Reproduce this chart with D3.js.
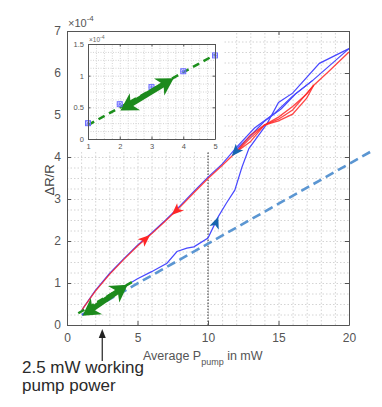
<!DOCTYPE html>
<html>
<head>
<meta charset="utf-8">
<script src="https://cdn.jsdelivr.net/npm/d3@7"></script>
<style>
  body { margin: 0; background: #fff; }
  svg { display: block; font-family: "Liberation Sans", Arial, sans-serif; }
</style>
</head>
<body>
<div id="chart"></div>
<script>
// Tick values
const xTicks = [0, 5, 10, 15, 20];
const yTicks = [0, 1, 2, 3, 4, 5, 6, 7];
const insetXTicks = [1, 2, 3, 4, 5];
const insetYTicks = [0, 0.5, 1, 1.5];

// Red curve (forward/back, mostly overlapping)
const redX = [1.06, 2, 3, 4, 5, 6, 7, 8, 9, 10, 11, 12, 13, 14, 15, 16, 17, 17.5, 18.5, 20];
const redY = [0.36, 0.8, 1.2, 1.55, 1.88, 2.17, 2.48, 2.8, 3.15, 3.49, 3.8, 4.12, 4.45, 4.76, 4.95, 5.2, 5.5, 5.71, 6.02, 6.5];
// Red loop branches between 12 and 17.5 mW
const redLoop1X = [12, 13, 14, 15, 16, 17.5];
const redLoop1Y = [4.12, 4.52, 4.76, 4.9, 5.12, 5.71];
const redLoop2X = [12, 13, 14, 15, 16, 17, 17.5];
const redLoop2Y = [4.12, 4.36, 4.76, 4.86, 5.02, 5.4, 5.71];

// Blue curve: rising branch
const blueUpX = [1.06, 2, 3, 4.26, 5, 6, 7.09, 7.8, 8.5, 9, 10, 10.73, 11.3, 11.9, 12.4, 12.9, 14.2, 15, 16, 17.9, 20];
const blueUpY = [0.24, 0.45, 0.66, 0.95, 1.1, 1.27, 1.47, 1.75, 1.83, 1.86, 2.07, 2.58, 2.9, 3.21, 3.75, 4.2, 4.8, 5.3, 5.52, 6.23, 6.58];
// Blue curve: falling branch
const blueDownX = [20, 17.45, 16, 14.75, 13.3, 12.05, 11, 10, 9, 8, 7, 6, 5, 4, 3, 2, 1.06];
const blueDownY = [6.58, 5.83, 5.45, 5.05, 4.69, 4.24, 3.83, 3.52, 3.18, 2.83, 2.5, 2.19, 1.9, 1.57, 1.22, 0.82, 0.36];
const blueDown2X = [11.9, 13, 14, 15.2, 16.2, 17.45];
const blueDown2Y = [4.15, 4.5, 4.85, 5.15, 5.5, 5.83];

// Linear fits
const blueFitX = [1.06, 21.5];
const blueFitY = [0.24, 4.12];
const greenFitX = [0.8, 4.6];
const greenFitY = [0.28, 1.02];

// Arrowheads: [tipX, tipY, fromX, fromY]
const redArrows = [[5.89, 2.14, 5.0, 1.88], [7.42, 2.62, 8.2, 2.86]];
const blueArrows = [[11.68, 4.02, 12.4, 4.3], [10.73, 2.58, 10.25, 2.15]];
const greenArrow = [1.1, 0.22, 4.3, 0.96];
const markerX = 10;
const markerTop = 4.12;
const workingPower = 2.5;

// Inset data (x10^-4)
const insetX = [1, 2, 3, 4, 5];
const insetY = [0.25, 0.55, 0.82, 1.07, 1.32];
const insetFitX = [1, 5];
const insetFitY = [0.22, 1.33];
const insetArrow = [2.02, 0.45, 3.7, 0.96];

const width = 382, height = 407;
const svg = d3.select('#chart').append('svg')
    .attr('width', width)
    .attr('height', height);

// Main scales
const x = d3.scaleLinear().domain([0, 20]).range([67, 349]);
const y = d3.scaleLinear().domain([0, 7]).range([325, 31]);

const axisColor = '#555';
const gridColor = '#d4d4d4';
const fmt = d3.format('~g');

// Minor grid
const grid = svg.append('g');
grid.append('g')
    .attr('transform', `translate(0,${y(0)})`)
    .call(d3.axisBottom(x).tickValues(d3.range(1, 20, 1)).tickSize(y(7) - y(0)).tickFormat(''))
    .call(g => g.select('.domain').remove());
grid.append('g')
    .attr('transform', `translate(${x(0)},0)`)
    .call(d3.axisLeft(y).tickValues(d3.range(0.25, 7, 0.25)).tickSize(x(0) - x(20)).tickFormat(''))
    .call(g => g.select('.domain').remove());
grid.selectAll('line')
    .attr('stroke', gridColor)
    .attr('stroke-dasharray', '1.5,2');

const line = d3.line().x(d => x(d[0])).y(d => y(d[1]));
const zip = (a, b) => a.map((v, i) => [v, b[i]]);

// dotted marker at 10 mW
svg.append('line')
    .attr('x1', x(markerX)).attr('x2', x(markerX))
    .attr('y1', y(0)).attr('y2', y(markerTop))
    .attr('stroke', '#333')
    .attr('stroke-dasharray', '1.5,1.5');

// Blue dashed fit
svg.append('path')
    .attr('d', line(zip(blueFitX, blueFitY)))
    .attr('fill', 'none')
    .attr('stroke', '#5b96d2')
    .attr('stroke-width', 2.6)
    .attr('stroke-dasharray', '9,5');

// Blue curves
[[blueUpX, blueUpY], [blueDownX, blueDownY], [blueDown2X, blueDown2Y]].forEach(([a, b]) => {
    svg.append('path')
        .attr('d', line(zip(a, b)))
        .attr('fill', 'none')
        .attr('stroke', '#4848ff')
        .attr('stroke-width', 1.2);
});

// Red curves
[[redX, redY], [redLoop1X, redLoop1Y], [redLoop2X, redLoop2Y]].forEach(([a, b]) => {
    svg.append('path')
        .attr('d', line(zip(a, b)))
        .attr('fill', 'none')
        .attr('stroke', '#ff2626')
        .attr('stroke-opacity', 0.85)
        .attr('stroke-width', 1.3);
});

// Arrowhead helper (pixel coords)
function arrowHead(g, tx, ty, fx, fy, len, half, notch, color) {
    const a = Math.atan2(ty - fy, tx - fx);
    const c = Math.cos(a), s = Math.sin(a);
    const pts = [
        [tx, ty],
        [tx - len * c - half * s, ty - len * s + half * c],
        [tx - (len - notch) * c, ty - (len - notch) * s],
        [tx - len * c + half * s, ty - len * s - half * c]
    ];
    g.append('polygon')
        .attr('points', pts.map(p => p.join(',')).join(' '))
        .attr('fill', color);
}

redArrows.forEach(d => arrowHead(svg, x(d[0]), y(d[1]), x(d[2]), y(d[3]), 12, 5, 3, '#ff2626'));
blueArrows.forEach(d => arrowHead(svg, x(d[0]), y(d[1]), x(d[2]), y(d[3]), 12, 5, 3, '#1766b0'));

// Green double arrow
function doubleArrow(g, x1, y1, x2, y2, color) {
    const len = Math.hypot(x2 - x1, y2 - y1);
    const ux = (x2 - x1) / len, uy = (y2 - y1) / len;
    g.append('line')
        .attr('x1', x1 + ux * 10).attr('y1', y1 + uy * 10)
        .attr('x2', x2 - ux * 10).attr('y2', y2 - uy * 10)
        .attr('stroke', color)
        .attr('stroke-width', 5.5);
    arrowHead(g, x2, y2, x1, y1, 17, 10, 5, color);
    arrowHead(g, x1, y1, x2, y2, 17, 10, 5, color);
}

svg.append('path')
    .attr('d', line(zip(greenFitX, greenFitY)))
    .attr('fill', 'none')
    .attr('stroke', '#1c8f1c')
    .attr('stroke-width', 2.5)
    .attr('stroke-dasharray', '7,4');
doubleArrow(svg, x(greenArrow[0]), y(greenArrow[1]), x(greenArrow[2]), y(greenArrow[3]), '#1c8a1c');

// Main axes with inward ticks
const tickStyle = g => {
    g.selectAll('line').attr('stroke', axisColor);
    g.select('.domain').attr('stroke', axisColor);
    g.selectAll('text').attr('fill', '#555').attr('font-size', 12);
};
svg.append('g')
    .attr('transform', `translate(0,${y(0)})`)
    .call(d3.axisBottom(x).tickValues(xTicks).tickFormat(fmt).tickSize(-4).tickSizeOuter(0).tickPadding(8))
    .call(tickStyle);
svg.append('g')
    .attr('transform', `translate(0,${y(7)})`)
    .call(d3.axisTop(x).tickValues(xTicks).tickSize(-4).tickSizeOuter(0).tickFormat(''))
    .call(tickStyle);
svg.append('g')
    .attr('transform', `translate(${x(0)},0)`)
    .call(d3.axisLeft(y).tickValues(yTicks).tickFormat(fmt).tickSize(-4).tickSizeOuter(0).tickPadding(6))
    .call(tickStyle);
svg.append('g')
    .attr('transform', `translate(${x(20)},0)`)
    .call(d3.axisRight(y).tickValues(yTicks).tickSize(-4).tickSizeOuter(0).tickFormat(''))
    .call(tickStyle);

// Exponent label
const expMain = svg.append('text')
    .attr('x', x(0) + 1).attr('y', 27)
    .attr('fill', '#555').attr('font-size', 11);
expMain.append('tspan').text('×10');
expMain.append('tspan').attr('dy', -6).attr('font-size', 8).text('-4');

// Axis labels
svg.append('text')
    .attr('transform', `translate(54,${y(3.5) + 2}) rotate(-90)`)
    .attr('text-anchor', 'middle')
    .attr('fill', '#444')
    .attr('font-size', 13)
    .text('ΔR/R');

const xLabel = svg.append('text')
    .attr('x', 143).attr('y', 360)
    .attr('fill', '#555').attr('font-size', 12.5);
xLabel.append('tspan').text('Average P');
xLabel.append('tspan').attr('dy', 5).attr('font-size', 9).text('pump');
xLabel.append('tspan').attr('dy', -5).text(' in mW');

// ---- Inset ----
const xi = d3.scaleLinear().domain([1, 5]).range([88, 215]);
const yi = d3.scaleLinear().domain([0, 1.5]).range([139, 44]);
const inset = svg.append('g');

inset.append('rect')
    .attr('x', x(0) + 1).attr('y', y(7) + 1)
    .attr('width', 156).attr('height', 120)
    .attr('fill', '#fff');

const igrid = inset.append('g');
igrid.append('g')
    .attr('transform', `translate(0,${yi(0)})`)
    .call(d3.axisBottom(xi).tickValues(d3.range(1.25, 5, 0.25)).tickSize(yi(1.5) - yi(0)).tickFormat(''))
    .call(g => g.select('.domain').remove());
igrid.append('g')
    .attr('transform', `translate(${xi(1)},0)`)
    .call(d3.axisLeft(yi).tickValues(d3.range(0.125, 1.5, 0.125)).tickSize(xi(1) - xi(5)).tickFormat(''))
    .call(g => g.select('.domain').remove());
igrid.selectAll('line')
    .attr('stroke', gridColor)
    .attr('stroke-dasharray', '1,1.5');

const iline = d3.line().x(d => xi(d[0])).y(d => yi(d[1]));
inset.append('path')
    .attr('d', iline(zip(insetFitX, insetFitY)))
    .attr('fill', 'none')
    .attr('stroke', '#1c8f1c')
    .attr('stroke-width', 2.5)
    .attr('stroke-dasharray', '7,5');

// Data markers
const marks = inset.selectAll('g.mark')
    .data(zip(insetX, insetY))
    .join('g')
    .attr('class', 'mark')
    .attr('transform', d => `translate(${xi(d[0])},${yi(d[1])})`);
marks.append('rect')
    .attr('x', -2.5).attr('y', -2.5).attr('width', 5).attr('height', 5)
    .attr('fill', 'none').attr('stroke', '#6f6fff').attr('stroke-width', 1);
marks.append('path')
    .attr('d', 'M-3,0H3M0,-3V3M-2,-2L2,2M-2,2L2,-2')
    .attr('stroke', '#6f6fff').attr('stroke-width', 0.8);

doubleArrow(inset, xi(insetArrow[0]), yi(insetArrow[1]), xi(insetArrow[2]), yi(insetArrow[3]), '#1c8a1c');

const insetTicks = g => {
    g.selectAll('line').attr('stroke', axisColor);
    g.select('.domain').attr('stroke', axisColor);
    g.selectAll('text').attr('fill', '#555').attr('font-size', 7.5);
};
inset.append('g')
    .attr('transform', `translate(0,${yi(0)})`)
    .call(d3.axisBottom(xi).tickValues(insetXTicks).tickFormat(fmt).tickSize(-2.5).tickSizeOuter(0).tickPadding(5))
    .call(insetTicks);
inset.append('g')
    .attr('transform', `translate(0,${yi(1.5)})`)
    .call(d3.axisTop(xi).tickValues(insetXTicks).tickSize(-2.5).tickSizeOuter(0).tickFormat(''))
    .call(insetTicks);
inset.append('g')
    .attr('transform', `translate(${xi(1)},0)`)
    .call(d3.axisLeft(yi).tickValues(insetYTicks).tickFormat(fmt).tickSize(-2.5).tickSizeOuter(0).tickPadding(4))
    .call(insetTicks);
inset.append('g')
    .attr('transform', `translate(${xi(5)},0)`)
    .call(d3.axisRight(yi).tickValues(insetYTicks).tickSize(-2.5).tickSizeOuter(0).tickFormat(''))
    .call(insetTicks);

const expInset = inset.append('text')
    .attr('x', xi(1) + 1).attr('y', 42)
    .attr('fill', '#666').attr('font-size', 6.5);
expInset.append('tspan').text('×10');
expInset.append('tspan').attr('dy', -3).attr('font-size', 5).text('-4');

// ---- Working pump power annotation ----
const ax = x(workingPower);
svg.append('line')
    .attr('x1', ax).attr('x2', ax)
    .attr('y1', 361).attr('y2', 336)
    .attr('stroke', '#222').attr('stroke-width', 1.2);
arrowHead(svg, ax, 329, ax, 361, 9, 3.5, 0, '#222');

svg.append('text')
    .attr('x', 22).attr('y', 373)
    .attr('fill', '#2a2a2a').attr('font-size', 17)
    .text('2.5 mW working');
svg.append('text')
    .attr('x', 22).attr('y', 391)
    .attr('fill', '#2a2a2a').attr('font-size', 17)
    .text('pump power');
</script>
</body>
</html>
